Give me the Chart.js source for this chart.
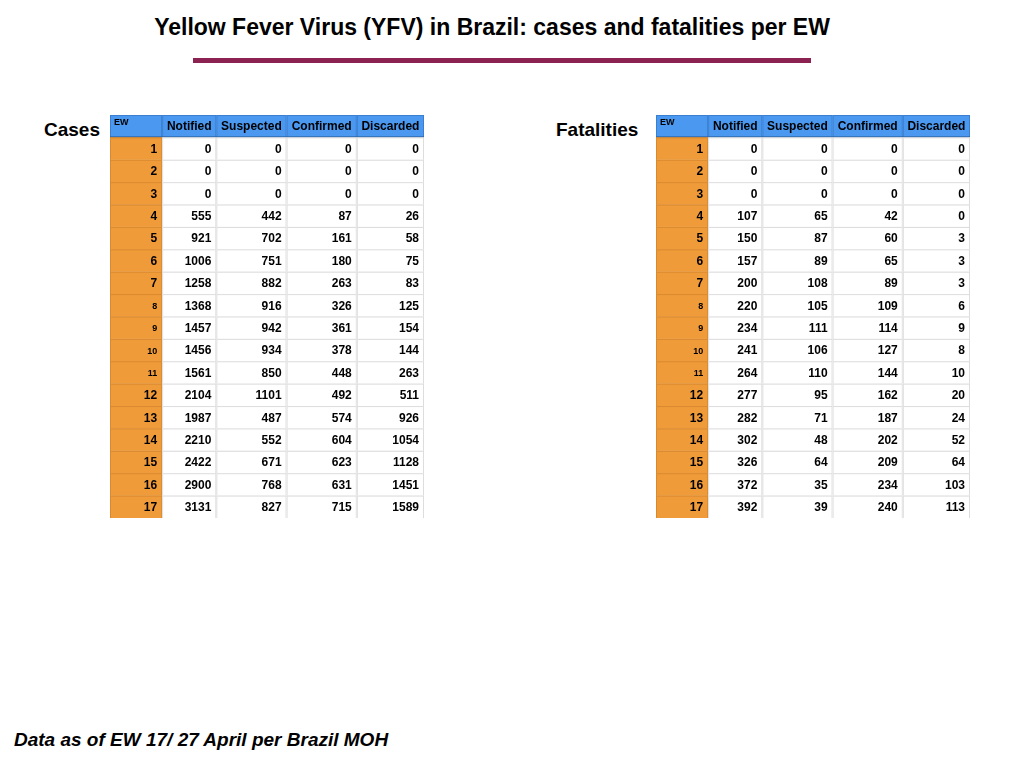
<!DOCTYPE html>
<html>
<head>
<meta charset="utf-8">
<script src="https://cdn.jsdelivr.net/npm/chart.js@4"></script>
<style>
  body { margin: 0; width: 1024px; height: 768px; background: #fff; position: relative; font-family: "Liberation Sans", Arial, sans-serif; }
  .title { position: absolute; top: 14px; left: 0; width: 984px; text-align: center; font-size: 23px; font-weight: bold; }
  .rule { position: absolute; top: 58px; left: 193px; width: 618px; height: 5px; background: #8b2252; }
  .lbl { position: absolute; font-size: 19px; font-weight: bold; }
  .foot { position: absolute; left: 14px; top: 729px; font-size: 19px; font-weight: bold; font-style: italic; }
  canvas { position: absolute; }
</style>
</head>
<body>
<div class="title">Yellow Fever Virus (YFV) in Brazil: cases and fatalities per EW</div>
<div class="rule"></div>
<div class="lbl" style="left:44px;top:119px">Cases</div>
<div class="lbl" style="left:556px;top:119px">Fatalities</div>
<div class="foot">Data as of EW 17/ 27 April per Brazil MOH</div>
<div style="position:absolute;left:110px;top:115px;width:314px;height:403px"><canvas id="cases"></canvas></div>
<div style="position:absolute;left:656px;top:115px;width:314px;height:403px"><canvas id="fatal"></canvas></div>
<script>
var columns = ['EW', 'Notified', 'Suspected', 'Confirmed', 'Discarded'];
var weeks = ['1','2','3','4','5','6','7','8','9','10','11','12','13','14','15','16','17'];

var casesNotified = [0,0,0,555,921,1006,1258,1368,1457,1456,1561,2104,1987,2210,2422,2900,3131];
var casesSuspected = [0,0,0,442,702,751,882,916,942,934,850,1101,487,552,671,768,827];
var casesConfirmed = [0,0,0,87,161,180,263,326,361,378,448,492,574,604,623,631,715];
var casesDiscarded = [0,0,0,26,58,75,83,125,154,144,263,511,926,1054,1128,1451,1589];

var fatalNotified = [0,0,0,107,150,157,200,220,234,241,264,277,282,302,326,372,392];
var fatalSuspected = [0,0,0,65,87,89,108,105,111,106,110,95,71,48,64,35,39];
var fatalConfirmed = [0,0,0,42,60,65,89,109,114,127,144,162,187,202,209,234,240];
var fatalDiscarded = [0,0,0,0,3,3,3,6,9,8,10,20,24,52,64,103,113];

// column edges in table units (layout, not data)
var colEdges = [0, 52, 106, 176, 246, 313];

var tablePlugin = {
  id: 'tableCells',
  afterDraw: function(chart) {
    var ctx = chart.ctx, xs = chart.scales.x, ys = chart.scales.y;
    var series = chart.data.datasets.map(function(d) { return d.data; });
    var rows = ys.getLabels();
    var half = (ys.getPixelForValue(1) - ys.getPixelForValue(0)) / 2;
    ctx.save();
    rows.forEach(function(r, i) {
      var yc = ys.getPixelForValue(i), top = yc - half, bot = yc + half;
      for (var c = 0; c < columns.length; c++) {
        var x0 = xs.getPixelForValue(colEdges[c]), x1 = xs.getPixelForValue(colEdges[c + 1]);
        var fill = i === 0 ? '#4b98f0' : (c === 0 ? '#f09b3a' : '#ffffff');
        ctx.fillStyle = fill;
        ctx.fillRect(x0, top, x1 - x0, bot - top);
        ctx.strokeStyle = i === 0 ? '#3a7fd0' : (c === 0 ? '#d98a30' : '#dddddd');
        ctx.lineWidth = 1;
        ctx.strokeRect(x0 + 0.5, top + 0.5, x1 - x0 - 1, bot - top);
        ctx.fillStyle = '#000';
        ctx.textBaseline = 'middle';
        if (i === 0) {
          if (c === 0) {
            ctx.font = 'bold 9px "Liberation Sans", Arial';
            ctx.textAlign = 'left';
            ctx.fillText(columns[c], x0 + 4, top + 8);
          } else {
            ctx.font = 'bold 12px "Liberation Sans", Arial';
            ctx.textAlign = 'center';
            ctx.fillText(columns[c], (x0 + x1) / 2, yc);
          }
        } else {
          var txt = c === 0 ? r : String(series[c - 1][i - 1]);
          var small = c === 0 && +r >= 8 && +r <= 11;
          ctx.font = 'bold ' + (small ? 9 : 12) + 'px "Liberation Sans", Arial';
          ctx.textAlign = 'right';
          ctx.fillText(txt, x1 - 5, yc + 1);
        }
      }
      if (i === 0) {
        ctx.fillStyle = '#2c5f9e';
        ctx.fillRect(xs.getPixelForValue(0), bot - 1, xs.getPixelForValue(313) - xs.getPixelForValue(0), 1.5);
      }
    });
    ctx.restore();
  }
};

function makeTable(id, a, b, c, d) {
  new Chart(document.getElementById(id), {
    type: 'scatter',
    data: {
      labels: ['EW'].concat(weeks),
      datasets: [
        { label: 'Notified', data: a, showLine: false, pointRadius: 0 },
        { label: 'Suspected', data: b, showLine: false, pointRadius: 0 },
        { label: 'Confirmed', data: c, showLine: false, pointRadius: 0 },
        { label: 'Discarded', data: d, showLine: false, pointRadius: 0 }
      ]
    },
    options: {
      responsive: true, maintainAspectRatio: false, animation: false,
      layout: { padding: 0 },
      plugins: { legend: { display: false }, tooltip: { enabled: false } },
      scales: {
        x: { type: 'linear', min: 0, max: 313, display: false },
        y: { type: 'category', labels: ['EW'].concat(weeks), offset: true, display: false }
      }
    },
    plugins: [tablePlugin]
  });
}

makeTable('cases', casesNotified, casesSuspected, casesConfirmed, casesDiscarded);
makeTable('fatal', fatalNotified, fatalSuspected, fatalConfirmed, fatalDiscarded);
</script>
</body>
</html>
